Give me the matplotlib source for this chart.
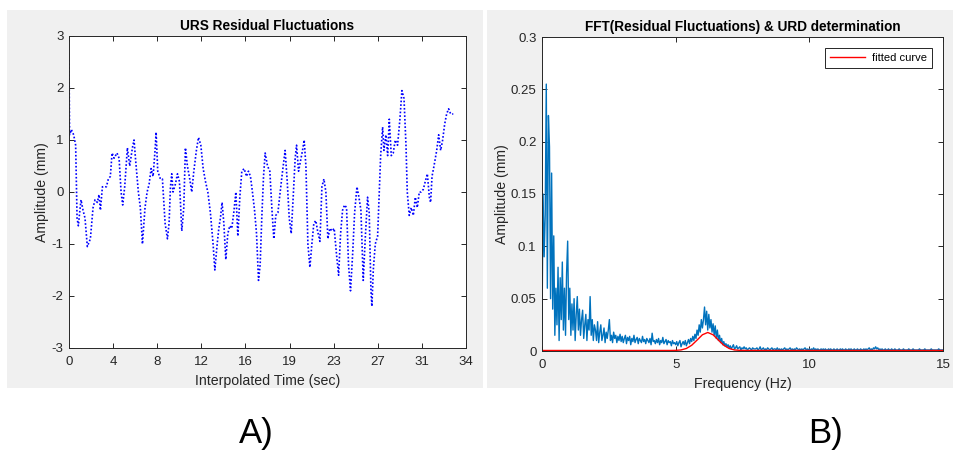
import numpy as np
import matplotlib
matplotlib.use("Agg")
import matplotlib.pyplot as plt
from matplotlib.patches import Rectangle

plt.rcParams['font.family'] = ['Liberation Sans', 'DejaVu Sans']
plt.rcParams['axes.unicode_minus'] = False

# --- A) residual fluctuations
t_sec = [0.0, 0.05, 0.2, 0.4, 0.57, 0.69, 0.8, 0.91, 1.03, 1.2, 1.37, 1.57, 1.83,
         2.06, 2.23, 2.43, 2.57, 2.69, 2.86, 3.2, 3.37, 3.54, 3.69, 3.86, 4.11,
         4.29, 4.46, 4.6, 4.77, 5.0, 5.2, 5.43, 5.57, 5.71, 5.94, 6.11, 6.29,
         6.51, 6.69, 6.86, 7.03, 7.2, 7.37, 7.46, 7.6, 7.83, 8.0, 8.23, 8.43,
         8.57, 8.69, 8.8, 8.91, 9.11, 9.29, 9.46, 9.66, 9.83, 9.97, 10.14, 10.34,
         10.51, 10.69, 10.91, 11.09, 11.29, 11.49, 11.69, 11.89, 12.11, 12.34,
         12.49, 12.69, 12.83, 12.97, 13.11, 13.26, 13.43, 13.6, 13.77, 13.94,
         14.11, 14.29, 14.46, 14.63, 14.8, 15.0, 15.2, 15.37, 15.54, 15.71,
         15.89, 16.06, 16.23, 16.37, 16.51, 16.66, 16.8, 17.0, 17.2, 17.37,
         17.54, 17.71, 17.89, 18.06, 18.29, 18.51, 18.69, 18.86, 19.03, 19.2,
         19.37, 19.49, 19.66, 19.83, 20.0, 20.14, 20.29, 20.46, 20.63, 20.8,
         20.97, 21.14, 21.29, 21.49, 21.66, 21.83, 22.0, 22.17, 22.34, 22.54,
         22.71, 22.91, 23.09, 23.26, 23.43, 23.6, 23.77, 23.94, 24.11, 24.29,
         24.46, 24.66, 24.83, 25.0, 25.2, 25.37, 25.57, 25.71, 25.86, 25.94,
         26.06, 26.23, 26.43, 26.57, 26.69, 26.86, 26.97, 27.14, 27.29, 27.43,
         27.6, 27.77, 27.94, 28.14, 28.34, 28.51, 28.69, 28.86, 28.97, 29.14,
         29.31, 29.49, 29.66, 29.83, 30.0, 30.17, 30.34, 30.51, 30.69, 30.86,
         30.97, 31.09, 31.26, 31.49, 31.66, 31.83, 32.0, 32.17, 32.34, 32.51,
         32.69, 32.91]
amp_mm = [2.54, 1.1, 1.2, 1.1, 0.9, -0.5, -0.65, -0.4, -0.15, -0.35, -0.5, -1.05,
          -0.9, -0.3, -0.15, -0.2, -0.05, -0.35, 0.1, 0.1, 0.25, 0.3, 0.75, 0.65,
          0.75, 0.65, 0.0, -0.25, 0.1, 0.85, 0.5, 0.85, 1.0, 0.6, 0.0, -0.3, -1.0,
          -0.3, 0.0, 0.15, 0.45, 0.3, 0.8, 1.15, 0.4, 0.25, 0.25, -0.6, -0.9,
          -0.6, 0.1, 0.35, 0.0, 0.15, 0.35, 0.2, -0.75, -0.3, 0.85, 0.5, 0.25,
          0.0, 0.4, 0.8, 1.05, 0.9, 0.45, 0.2, 0.0, -0.4, -1.0, -1.5, -1.0, -0.7,
          -0.5, -0.2, -0.6, -1.3, -0.8, -0.65, -0.7, -0.4, 0.0, -0.85, -0.1, 0.4,
          0.45, 0.3, 0.4, 0.3, 0.0, -0.35, -0.8, -1.7, -1.4, -0.5, 0.3, 0.75, 0.5,
          0.4, -0.3, -0.9, -0.45, -0.4, -0.05, 0.4, 0.8, 0.2, -0.5, -0.8, -0.1,
          0.65, 0.9, 0.4, 0.6, 0.8, 1.0, 0.5, -1.0, -1.45, -1.0, -0.6, -0.55,
          -0.75, -0.95, 0.1, 0.25, 0.0, -0.9, -0.7, -0.75, -0.7, -1.2, -1.6, -0.8,
          -0.35, -0.25, -0.3, -1.4, -1.9, -1.2, -0.4, 0.1, -0.1, -0.35, -1.7,
          -0.9, -0.1, -0.4, -1.9, -2.2, -1.5, -1.0, -0.85, 0.0, 0.7, 1.25, 0.8,
          1.1, 0.7, 1.4, 0.7, 0.75, 1.0, 0.9, 1.4, 1.95, 1.8, 0.9, 0.0, -0.45,
          -0.3, -0.45, -0.1, -0.3, 0.0, 0.0, 0.05, 0.2, 0.35, -0.1, -0.2, 0.3,
          0.5, 0.8, 1.1, 0.8, 1.0, 1.3, 1.5, 1.6, 1.5, 1.5]

time_ticks = np.linspace(0, 34, 10)
time_labels = ['0', '4', '8', '12', '16', '19', '23', '27', '31', '34']

# --- B) FFT amplitude (in 1e-3 mm), one row per Hz, 0.04 Hz bins
df = 0.04
fft_rows = [
    [20, 150, 90, 130, 255, 60, 225, 195, 50, 170, 40, 110, 15, 60, 25, 80, 10, 70, 30, 85, 20, 60, 15, 75, 105],
    [30, 60, 15, 45, 20, 50, 10, 35, 52, 20, 40, 15, 30, 39, 12, 25, 35, 10, 30, 20, 52, 15, 30, 10, 25],
    [20, 10, 28, 8, 18, 25, 10, 15, 22, 8, 18, 12, 20, 30, 10, 15, 8, 18, 12, 15, 8, 14, 10, 16, 9],
    [14, 8, 12, 15, 7, 13, 10, 14, 6, 12, 9, 15, 8, 11, 13, 7, 12, 10, 8, 14, 9, 11, 7, 12, 10],
    [8, 12, 6, 17, 9, 10, 7, 11, 8, 12, 6, 10, 8, 13, 7, 9, 11, 6, 10, 8, 9, 5, 10, 7, 8],
    [6, 9, 5, 8, 10, 4, 7, 9, 6, 10, 5, 8, 11, 7, 12, 9, 14, 10, 16, 12, 20, 15, 25, 18, 30],
    [22, 30, 42, 25, 38, 20, 35, 22, 30, 18, 26, 15, 24, 12, 20, 10, 15, 8, 12, 6, 9, 5, 7, 4, 6],
    [3, 5, 2, 4, 6, 2, 3, 5, 2, 3, 4, 1, 3, 2, 4, 2, 3, 1, 2, 3, 2, 1, 3, 2, 2],
    [2, 3, 1, 2, 4, 1, 2, 3, 1, 2, 1, 3, 2, 1, 2, 3, 1, 2, 2, 1, 3, 1, 2, 1, 2],
    [1, 2, 3, 1, 2, 1, 2, 3, 1, 2, 1, 2, 1, 3, 2, 1, 2, 1, 2, 1, 2, 3, 1, 2, 1],
    [2, 1, 2, 1, 3, 1, 2, 1, 2, 1, 1, 2, 1, 2, 1, 2, 1, 1, 2, 1, 2, 1, 1, 2, 1],
    [1, 2, 1, 1, 2, 1, 2, 1, 1, 2, 1, 1, 2, 1, 2, 1, 1, 2, 1, 1, 2, 1, 1, 2, 1],
    [1, 2, 1, 2, 1, 2, 3, 1, 2, 1, 3, 2, 4, 2, 3, 1, 2, 1, 2, 1, 1, 2, 1, 1, 2],
    [1, 1, 2, 1, 1, 2, 1, 1, 1, 2, 1, 1, 1, 2, 1, 1, 1, 1, 2, 1, 1, 1, 2, 1, 1],
    [1, 1, 1, 2, 1, 1, 1, 1, 2, 1, 1, 1, 1, 1, 2, 1, 1, 1, 1, 1, 1, 2, 1, 1, 1],
    [1],
]
fft_amp = np.concatenate([np.array(r, float) for r in fft_rows]) * 1e-3
fft_freq = np.arange(len(fft_amp)) * df

fit_freq = [0, 4.6, 4.8, 5.0, 5.2, 5.4, 5.6, 5.8, 6.0, 6.2, 6.4, 6.6, 6.8, 7.0,
            7.2, 7.4, 7.6, 15]
fit_amp = [0.0005, 0.0005, 0.0005, 0.0006, 0.0010, 0.0024, 0.0055, 0.0104,
           0.0155, 0.0177, 0.0155, 0.0104, 0.0055, 0.0024, 0.0010, 0.0006,
           0.0005, 0.0005]

fig = plt.figure(figsize=(9.54, 4.51), dpi=100, facecolor='white')
W, H = 954.0, 451.0
for x0, x1 in [(7, 483), (487, 954)]:
    fig.patches.append(Rectangle((x0 / W, 1 - 388 / H), (x1 - x0) / W, 378 / H,
                                 transform=fig.transFigure, facecolor='#f0f0f0',
                                 edgecolor='none', zorder=-10))

dark = '#262626'


def style(ax):
    ax.tick_params(direction='in', length=3.5, width=0.7, top=True, right=True,
                   labelsize=9.5, colors=dark, labelcolor=dark)
    ax.tick_params(axis='x', pad=6)
    ax.tick_params(axis='y', pad=4)
    for s in ax.spines.values():
        s.set_color(dark)
        s.set_linewidth(0.7)
    ax.set_facecolor('white')


ax1 = fig.add_axes([69 / W, 1 - 348 / H, 397 / W, 312 / H])
ax1.plot(t_sec, amp_mm, color='blue', linewidth=1.2, linestyle=(0, (1, 1.2)))
ax1.set_xlim(0, 34)
ax1.set_ylim(-3, 3)
ax1.set_xticks(time_ticks)
ax1.set_xticklabels(time_labels)
ax1.set_yticks(range(-3, 4))
ax1.set_title('URS Residual Fluctuations', fontsize=9.8, fontweight='bold', pad=4)
ax1.set_xlabel('Interpolated Time (sec)', fontsize=10.2, color=dark, labelpad=4)
ax1.set_ylabel('Amplitude (mm)', fontsize=10.2, color=dark, labelpad=2)
style(ax1)

ax2 = fig.add_axes([542 / W, 1 - 351 / H, 401 / W, 314 / H])
ax2.plot(fft_freq, fft_amp, color='#0072BD', linewidth=1.0)
ax2.plot(fit_freq, fit_amp, color='red', linewidth=1.0, label='fitted curve')
ax2.set_xlim(0, 15)
ax2.set_ylim(0, 0.3)
ax2.set_xticks([0, 5, 10, 15])
ax2.set_yticks(np.arange(0, 0.31, 0.05))
ax2.set_yticklabels(['0', '0.05', '0.1', '0.15', '0.2', '0.25', '0.3'])
ax2.set_title('FFT(Residual Fluctuations) & URD determination', fontsize=9.8,
              fontweight='bold', pad=4)
ax2.set_xlabel('Frequency (Hz)', fontsize=10.2, color=dark, labelpad=4)
ax2.set_ylabel('Amplitude (mm)', fontsize=10.2, color=dark, labelpad=1)
style(ax2)
leg = ax2.legend(loc='upper right', fontsize=8, fancybox=False, framealpha=1,
                 edgecolor=dark, borderaxespad=1.0, handlelength=3.2,
                 borderpad=0.45, handletextpad=0.6)
leg.get_frame().set_linewidth(0.7)

fig.text(256 / W, 1 - 434 / H, 'A)', fontsize=25, ha='center', va='center')
fig.text(826 / W, 1 - 434 / H, 'B)', fontsize=25, ha='center', va='center')

fig.savefig('out.png', dpi=100, facecolor='white')
